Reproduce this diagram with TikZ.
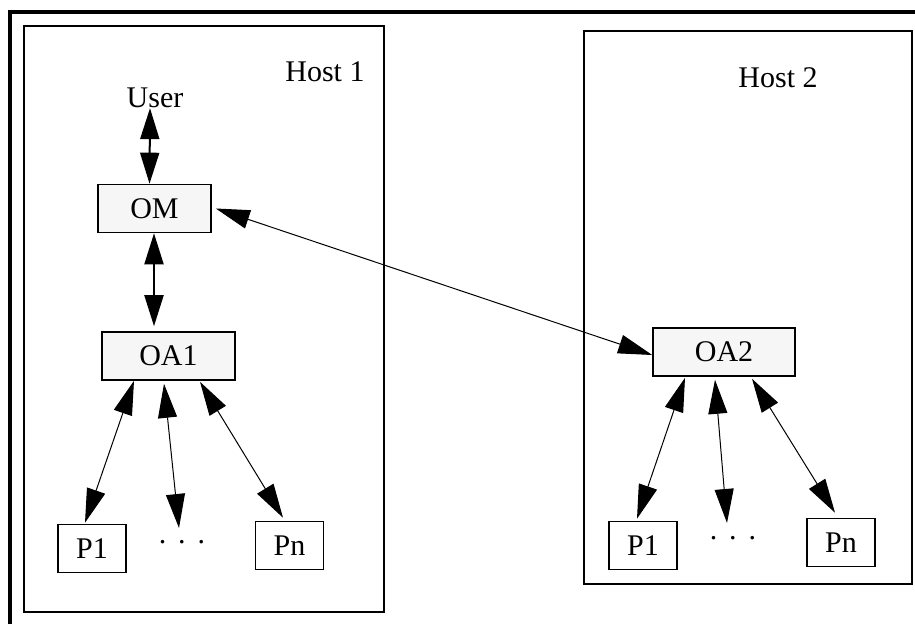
\documentclass[tikz,border=0pt]{standalone}
\usepackage{fontspec}
\setmainfont{Liberation Serif}
\definecolor{boxgray}{RGB}{246,246,246}
\tikzset{
  hostbox/.style = {draw=black, line width=2pt, rectangle, inner sep=0pt},% hote
  proc_g/.style = {draw=black, line width=1.6pt, fill=boxgray,
    inner sep=0pt, minimum height=48pt},% noeud gris
  proc_w/.style = {draw=black, line width=1.6pt, fill=white,
    inner sep=0pt, minimum width=68pt, minimum height=48pt},% noeud blanc
  lbl/.style = {inner sep=0pt},
  link/.style = {{Triangle[length=34pt,width=19pt]}-{Triangle[length=34pt,width=19pt]},
    line width=1pt},
  link_t/.style = {{Triangle[length=31pt,width=19pt]}-{Triangle[length=31pt,width=19pt]},
    line width=2pt}
}
\usetikzlibrary{arrows.meta}

\begin{document}
\begin{tikzpicture}[x=1pt,y=-1pt,font=\fontsize{30}{36}\selectfont]
\useasboundingbox (0,0) rectangle (915,624);
\draw[line width=4pt] (10,624) -- (10,11.5) -- (915,11.5);

\node [hostbox, minimum width=360pt, minimum height=586pt] (host1) at (204,319) {};
\node [hostbox, minimum width=328pt, minimum height=553pt] (host2) at (748,307.5) {};
\node [lbl] (h1lbl) at (325,72) {Host 1};
\node [lbl] (h2lbl) at (778,77.5) {Host 2};

\node [lbl] (user) at (155,98) {User};
\node [proc_g, minimum width=113pt] (om) at (154.5,208.5) {OM};
\node [proc_g, minimum width=133pt] (oa1) at (168.5,356) {OA1};
\node [proc_g, minimum width=142pt] (oa2) at (724,352) {OA2};

\node [proc_w] (p1a) at (92,548.5) {P1};
\node [lbl] (dotsa) at (182,542) {.\hspace{0.4em}.\hspace{0.4em}.};
\node [proc_w] (pna) at (289.5,545.5) {Pn};
\node [proc_w] (p1b) at (643,545.5) {P1};
\node [lbl] (dotsb) at (733,538) {.\hspace{0.4em}.\hspace{0.4em}.};
\node [proc_w] (pnb) at (841,542.5) {Pn};

\draw [link_t] ([xshift=-5pt]user.south) -- ([xshift=-5pt]om.north);
\draw [link_t] ([xshift=-0.5pt]om.south) -- ([xshift=-14.5pt,yshift=5pt]oa1.north);
\draw [link] ([xshift=4pt]om.east) -- ([yshift=-3pt]oa2.west);

\draw [link] ([xshift=-34.5pt]oa1.south) -- ([xshift=-7pt,yshift=1pt]p1a.north);
\draw [link] ([xshift=-4.5pt,yshift=-3pt]oa1.south) -- ([xshift=-3pt,yshift=14pt]dotsa.center);
\draw [link] ([xshift=31.5pt,yshift=-1pt]oa1.south) -- ([xshift=-6.5pt,yshift=3pt]pna.north);

\draw [link] ([xshift=-39pt,yshift=-1pt]oa2.south) -- ([xshift=-6pt,yshift=2pt]p1b.north);
\draw [link] ([xshift=-9pt,yshift=-3pt]oa2.south) -- ([xshift=-6pt,yshift=15pt]dotsb.center);
\draw [link] ([xshift=28pt,yshift=-2pt]oa2.south) -- ([xshift=-6pt,yshift=5pt]pnb.north);
\end{tikzpicture}
\end{document}
